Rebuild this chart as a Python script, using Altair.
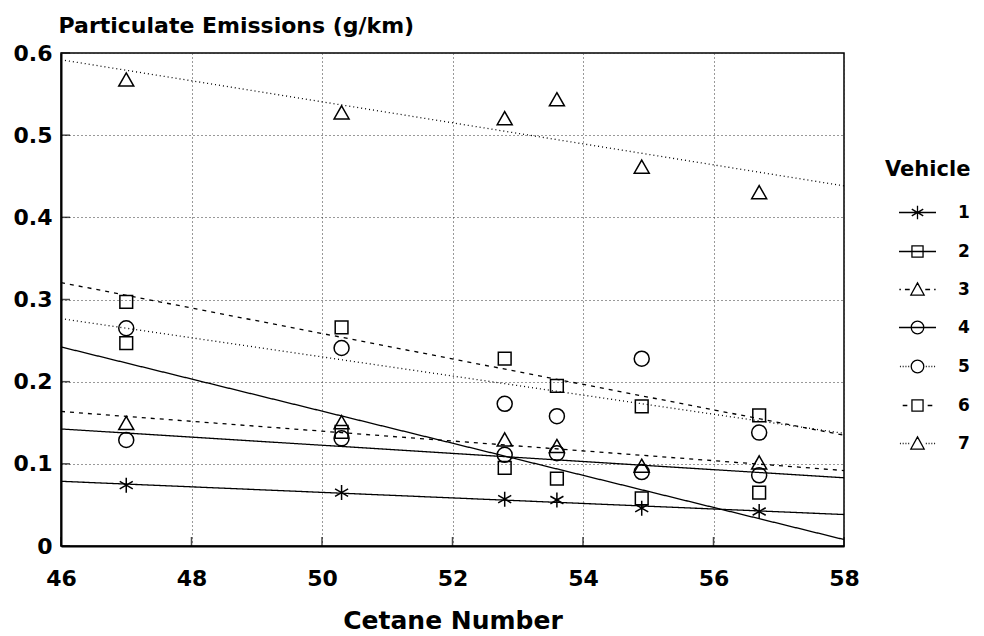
import altair as alt
import pandas as pd

# Cetane number of each test fuel
cetane = [47.0, 50.3, 52.8, 53.6, 54.9, 56.7]

# Particulate emissions (g/km) per vehicle, one value per fuel
vehicle_1 = [0.074, 0.065, 0.057, 0.056, 0.046, 0.042]
vehicle_2 = [0.247, 0.139, 0.095, 0.082, 0.058, 0.065]
vehicle_3 = [0.149, 0.150, 0.129, 0.121, 0.097, 0.101]
vehicle_4 = [0.129, 0.131, 0.111, 0.113, 0.090, 0.086]
vehicle_5 = [0.265, 0.241, 0.173, 0.158, 0.228, 0.138]
vehicle_6 = [0.297, 0.266, 0.228, 0.195, 0.170, 0.159]
vehicle_7 = [0.567, 0.527, 0.520, 0.543, 0.461, 0.430]

vehicles = ["1", "2", "3", "4", "5", "6", "7"]
series = [vehicle_1, vehicle_2, vehicle_3, vehicle_4, vehicle_5, vehicle_6, vehicle_7]

x_ticks = [46, 48, 50, 52, 54, 56, 58]
y_ticks = [0.0, 0.1, 0.2, 0.3, 0.4, 0.5, 0.6]

rows = []
for name, values in zip(vehicles, series):
    for c, v in zip(cetane, values):
        rows.append({"vehicle": name, "cetane": c, "pm": v})
df = pd.DataFrame(rows)

FONT = "DejaVu Sans"

# Marker outlines (unit box -1..1)
ASTERISK = "M0,-1L0,1M-0.87,-0.5L0.87,0.5M-0.87,0.5L0.87,-0.5"
SQUARE = "M-0.85,-0.85L0.85,-0.85L0.85,0.85L-0.85,0.85Z"
TRIANGLE = "M0,-0.95L1,0.8L-1,0.8Z"
CIRCLE = "M1,0A1,1,0,1,1,-1,0A1,1,0,1,1,1,0Z"
marker_paths = [ASTERISK, SQUARE, TRIANGLE, CIRCLE, CIRCLE, SQUARE, TRIANGLE]

# Line style of each fitted line
SOLID = [1, 0]
DASHED = [4, 5]
DOTTED = [1, 3]
dash_patterns = [SOLID, SOLID, DASHED, SOLID, DOTTED, DASHED, DOTTED]

# Legend keys: a short line sample with the marker in the middle
L_SOLID = "M-1,0L1,0"
L_DASHED = "M-0.8,0L-0.55,0M0.55,0L0.8,0"
L_DASHDOT = "M-0.98,0L-0.9,0M-0.68,0L-0.42,0M0.42,0L0.68,0M0.9,0L0.98,0"
L_DOTTED = ("M-0.95,0L-0.9,0M-0.8,0L-0.75,0M-0.65,0L-0.6,0M-0.5,0L-0.45,0"
            "M0.45,0L0.5,0M0.6,0L0.65,0M0.75,0L0.8,0M0.9,0L0.95,0")
K_AST = "M0,-0.36L0,0.36M-0.31,-0.18L0.31,0.18M-0.31,0.18L0.31,-0.18"
K_SQ = "M-0.3,-0.3L0.3,-0.3L0.3,0.3L-0.3,0.3Z"
K_TRI = "M0,-0.36L0.36,0.3L-0.36,0.3Z"
K_CIR = "M0.34,0A0.34,0.34,0,1,1,-0.34,0A0.34,0.34,0,1,1,0.34,0Z"
legend_paths = [
    L_SOLID + K_AST,
    L_SOLID + K_SQ,
    L_DASHDOT + K_TRI,
    L_SOLID + K_CIR,
    L_DOTTED + K_CIR,
    L_DASHED + K_SQ,
    L_DOTTED + K_TRI,
]

x_scale = alt.Scale(domain=[46, 58], nice=False, zero=False)
y_scale = alt.Scale(domain=[0, 0.6], nice=False)

x_axis = alt.Axis(
    values=x_ticks, format="d", title="Cetane Number",
    labelFont=FONT, labelFontSize=22, labelFontWeight="bold", labelColor="black",
    labelPadding=22, labelFlush=False,
    titleFont=FONT, titleFontSize=25, titleFontWeight="bold", titleColor="black",
    titlePadding=19,
    ticks=False, tickSize=0,
    domainColor="black", domainWidth=2,
    grid=True, gridColor="#333333", gridDash=[1, 3], gridWidth=1,
)
y_axis = alt.Axis(
    values=y_ticks,
    labelExpr="datum.value == 0 ? '0' : format(datum.value, '.1f')",
    title="Particulate Emissions (g/km)",
    titleAngle=0, titleAlign="left", titleBaseline="middle",
    titleX=-3, titleY=-28,
    labelFont=FONT, labelFontSize=22, labelFontWeight="bold", labelColor="black",
    labelPadding=9,
    titleFont=FONT, titleFontSize=22, titleFontWeight="bold", titleColor="black",
    ticks=False, tickSize=0,
    domainColor="black", domainWidth=2,
    grid=True, gridColor="#333333", gridDash=[1, 3], gridWidth=1,
)

X = alt.X("cetane:Q", scale=x_scale, axis=x_axis)
Y = alt.Y("pm:Q", scale=y_scale, axis=y_axis)

base = alt.Chart(df)

fit_lines = base.transform_regression(
    "cetane", "pm", groupby=["vehicle"], extent=[46, 58]
).mark_line(color="black", strokeWidth=1.3).encode(
    x=X, y=Y,
    strokeDash=alt.StrokeDash(
        "vehicle:N", scale=alt.Scale(domain=vehicles, range=dash_patterns), legend=None
    ),
    detail="vehicle:N",
)

points = base.mark_point(
    filled=False, color="black", strokeWidth=1.5, size=225, opacity=1
).encode(
    x=X, y=Y,
    shape=alt.Shape(
        "vehicle:N", scale=alt.Scale(domain=vehicles, range=marker_paths), legend=None
    ),
)

legend_keys = base.transform_filter("false").mark_point(
    filled=False, color="black", strokeWidth=1.3, opacity=1
).encode(
    x=X, y=Y,
    shape=alt.Shape(
        "vehicle:N",
        scale=alt.Scale(domain=vehicles, range=legend_paths),
        legend=alt.Legend(
            title="Vehicle", orient="none", legendX=824, legendY=106,
            titleFont=FONT, titleFontSize=21, titleFontWeight="bold", titleColor="black",
            titlePadding=13,
            labelFont=FONT, labelFontSize=17, labelFontWeight="bold", labelColor="black",
            labelOffset=21,
            symbolSize=1369, symbolOffset=13,
            symbolStrokeColor="black", symbolStrokeWidth=1.3,
            symbolFillColor="transparent",
            rowPadding=10, padding=0,
        ),
    ),
)

# short inward tick marks along the bottom and left frame
x_tick_marks = alt.Chart(pd.DataFrame({"cetane": x_ticks})).mark_tick(
    orient="vertical", size=9, thickness=1.5, color="black", yOffset=-4.5
).encode(x=X, y=alt.datum(0))

y_tick_marks = alt.Chart(pd.DataFrame({"pm": y_ticks})).mark_tick(
    orient="horizontal", size=9, thickness=1.5, color="black", xOffset=4.5
).encode(y=Y, x=alt.datum(46))

chart = alt.layer(
    fit_lines, x_tick_marks, y_tick_marks, points, legend_keys
).resolve_scale(
    shape="independent"
).properties(
    width=783, height=493,
    padding={"left": 61, "top": 53, "right": 140, "bottom": 90},
    autosize=alt.AutoSizeParams(type="none"),
    background="white",
).configure_view(
    stroke="black", strokeWidth=1.5
)

chart.save("out.html", embed_options={"renderer": "svg", "actions": False})
